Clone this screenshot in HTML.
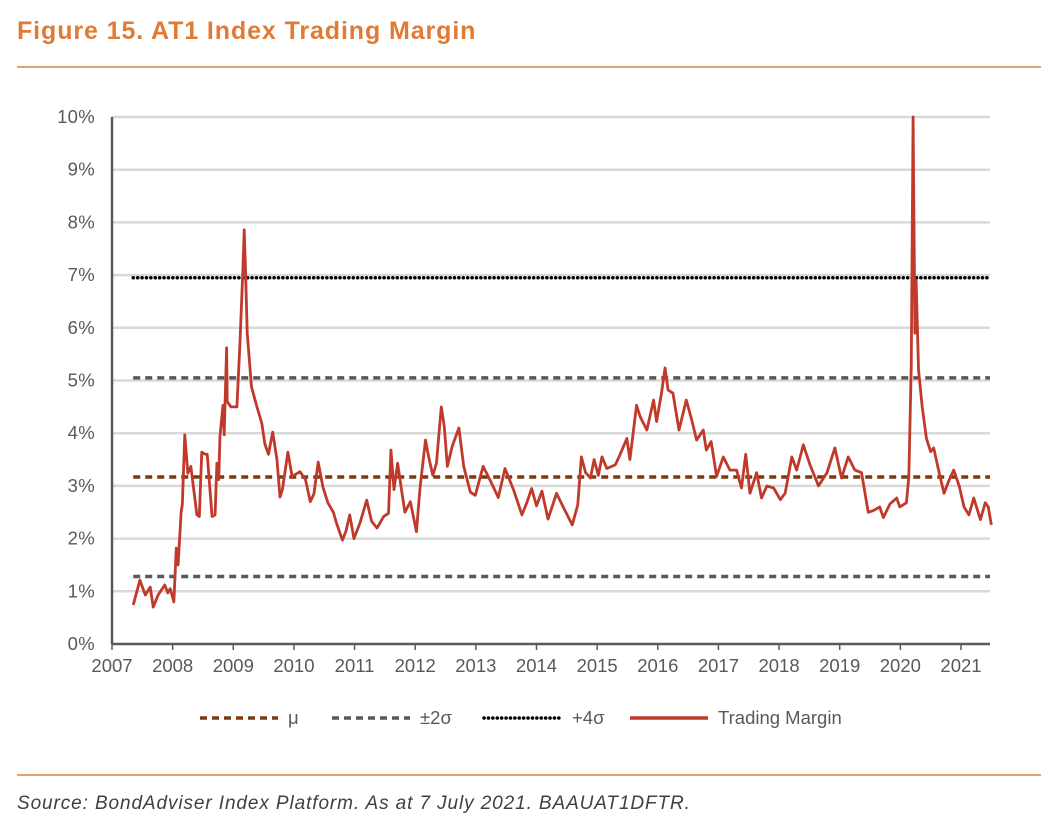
<!DOCTYPE html>
<html><head><meta charset="utf-8">
<style>
body{margin:0;background:#fff;width:1064px;height:833px;overflow:hidden;font-family:"Liberation Sans",sans-serif;}
#title{position:absolute;left:17px;top:17px;font-size:25px;letter-spacing:0.9px;font-weight:bold;color:#e07a35;}
.rule{position:absolute;left:17px;width:1024px;height:2px;background:#e8a06a;}
#source{position:absolute;left:17px;top:793px;font-size:19px;letter-spacing:0.9px;font-style:italic;color:#404040;}
</style></head><body>
<div id="title">Figure 15. AT1 Index Trading Margin</div>
<div class="rule" style="top:66px"></div>
<div class="rule" style="top:774px"></div>
<div id="source">Source: BondAdviser Index Platform. As at 7 July 2021. BAAUAT1DFTR.</div>
<svg id="chart" width="1064" height="833" style="position:absolute;left:0;top:0"></svg>
<script>
const yTicks=[0,1,2,3,4,5,6,7,8,9,10];
const xTicks=[2007,2008,2009,2010,2011,2012,2013,2014,2015,2016,2017,2018,2019,2020,2021];
const mu=3.17, minus2=1.28, plus2=5.05, plus4=6.95;
const dates=[2007.35,2007.46,2007.55,2007.63,2007.68,2007.76,2007.87,2007.92,2007.96,2008.02,2008.06,2008.09,2008.14,2008.16,2008.2,2008.25,2008.3,2008.4,2008.44,2008.48,2008.54,2008.57,2008.65,2008.7,2008.73,2008.76,2008.78,2008.83,2008.85,2008.89,2008.9,2008.96,2009.06,2009.11,2009.16,2009.18,2009.2,2009.23,2009.3,2009.39,2009.47,2009.52,2009.58,2009.65,2009.72,2009.77,2009.81,2009.85,2009.9,2009.97,2010.1,2010.19,2010.27,2010.33,2010.4,2010.48,2010.56,2010.65,2010.7,2010.8,2010.86,2010.92,2010.99,2011.09,2011.2,2011.28,2011.37,2011.48,2011.56,2011.6,2011.65,2011.71,2011.78,2011.83,2011.92,2012.02,2012.08,2012.17,2012.22,2012.29,2012.35,2012.43,2012.48,2012.53,2012.61,2012.72,2012.8,2012.91,2012.99,2013.12,2013.23,2013.37,2013.48,2013.62,2013.76,2013.84,2013.92,2014.0,2014.09,2014.19,2014.33,2014.44,2014.59,2014.68,2014.74,2014.81,2014.89,2014.95,2015.02,2015.08,2015.16,2015.3,2015.38,2015.49,2015.54,2015.65,2015.71,2015.82,2015.93,2015.98,2016.06,2016.12,2016.17,2016.25,2016.35,2016.47,2016.56,2016.64,2016.75,2016.8,2016.88,2016.97,2017.08,2017.19,2017.3,2017.38,2017.45,2017.52,2017.63,2017.71,2017.8,2017.91,2018.02,2018.1,2018.21,2018.29,2018.4,2018.51,2018.65,2018.79,2018.92,2019.03,2019.14,2019.25,2019.36,2019.47,2019.55,2019.66,2019.72,2019.83,2019.94,2019.99,2020.1,2020.14,2020.18,2020.21,2020.24,2020.26,2020.3,2020.36,2020.43,2020.5,2020.55,2020.64,2020.72,2020.8,2020.88,2020.97,2021.05,2021.13,2021.21,2021.32,2021.4,2021.45,2021.5];
const margins=[0.74,1.21,0.93,1.08,0.70,0.93,1.12,0.97,1.05,0.80,1.82,1.5,2.5,2.65,3.97,3.24,3.37,2.45,2.42,3.64,3.6,3.6,2.42,2.45,3.43,3.12,3.93,4.53,3.97,5.62,4.6,4.5,4.5,5.71,7.15,7.86,7.15,5.9,4.88,4.5,4.19,3.8,3.6,4.02,3.5,2.79,2.93,3.24,3.64,3.18,3.27,3.12,2.7,2.85,3.45,2.97,2.68,2.5,2.3,1.97,2.15,2.45,2.0,2.3,2.73,2.33,2.2,2.42,2.48,3.68,2.93,3.43,2.88,2.5,2.7,2.13,2.97,3.87,3.56,3.2,3.43,4.5,4.12,3.37,3.75,4.1,3.37,2.88,2.82,3.37,3.12,2.78,3.33,2.93,2.45,2.68,2.95,2.62,2.9,2.37,2.86,2.6,2.26,2.64,3.55,3.25,3.15,3.5,3.2,3.55,3.33,3.4,3.6,3.9,3.5,4.53,4.31,4.06,4.63,4.22,4.75,5.24,4.82,4.76,4.06,4.63,4.25,3.87,4.06,3.68,3.84,3.18,3.55,3.3,3.3,2.96,3.6,2.86,3.25,2.77,3.0,2.96,2.74,2.86,3.55,3.3,3.78,3.4,3.0,3.25,3.72,3.15,3.55,3.3,3.25,2.5,2.53,2.6,2.4,2.66,2.77,2.6,2.68,3.18,5.3,10.0,5.9,6.9,5.2,4.5,3.9,3.65,3.72,3.25,2.86,3.1,3.3,3.0,2.6,2.45,2.77,2.36,2.68,2.6,2.26];

const NS='http://www.w3.org/2000/svg', svg=document.getElementById('chart');
const X0=112,X1=961,Y0=644,Y1=117,XR=990;
const xs=v=>X0+(v-2007)*(X1-X0)/14;
const ys=v=>Y0-(v/10)*(Y0-Y1);
function mk(t,a){const e=document.createElementNS(NS,t);for(const k in a)e.setAttribute(k,a[k]);svg.appendChild(e);return e;}
yTicks.forEach(t=>{
  if(t>0){const g=mk('line',{x1:X0,x2:XR,y1:ys(t),y2:ys(t),stroke:'#d9d9d9','stroke-width':2.5});
  
  }
  const l=mk('text',{x:X0-17,y:ys(t)+6,'text-anchor':'end','font-size':18.5,fill:'#595959','font-family':'Liberation Sans','letter-spacing':0.3});
  l.textContent=t+'%';
  
  
});
xTicks.forEach(t=>{
  const l=mk('text',{x:xs(t),y:672,'text-anchor':'middle','font-size':18.5,fill:'#595959','font-family':'Liberation Sans'});
  l.textContent=t;
  
  
  const k=mk('line',{x1:xs(t),x2:xs(t),y1:Y0,y2:Y0+6,stroke:'#595959','stroke-width':1.5});
  
  
});
const ax=mk('line',{x1:X0,x2:X0,y1:Y1,y2:Y0,stroke:'#595959','stroke-width':2.5});


const bx=mk('line',{x1:X0,x2:XR,y1:Y0,y2:Y0,stroke:'#595959','stroke-width':2.5});


const x2s=xs(2007.35);
function hline(v,col,dash,cap,name){const e=mk('line',{x1:x2s,x2:XR,y1:ys(v),y2:ys(v),stroke:col,'stroke-width':3.5,'stroke-dasharray':dash,'stroke-linecap':cap});
  
  }
hline(mu,'#7b3a10','7 5','butt','mean-line');
hline(minus2,'#595959','7 5','butt','minus-2sigma-line');
hline(plus2,'#595959','7 5','butt','plus-2sigma-line');
hline(plus4,'#000','0.1 4.3','round','plus-4sigma-line');
const p=mk('polyline',{points:dates.map((d,i)=>xs(d)+','+ys(margins[i])).join(' '),fill:'none',stroke:'#c0392b','stroke-width':2.8,'stroke-linejoin':'round'});


const leg=[[200,'#7b3a10','7 5','butt','μ'],[332,'#595959','7 5','butt','±2σ'],[484,'#000','0.1 4.3','round','+4σ'],[630,'#c0392b','','butt','Trading Margin']];
leg.forEach(L=>{
  const e=mk('line',{x1:L[0],x2:L[0]+78,y1:718,y2:718,stroke:L[1],'stroke-width':3.5,'stroke-dasharray':L[2],'stroke-linecap':L[3]});
  
  
  const t=mk('text',{x:L[0]+88,y:724,'font-size':18.5,fill:'#595959','font-family':'Liberation Sans'});
  t.textContent=L[4];
  
  
});
</script>
</body></html>
